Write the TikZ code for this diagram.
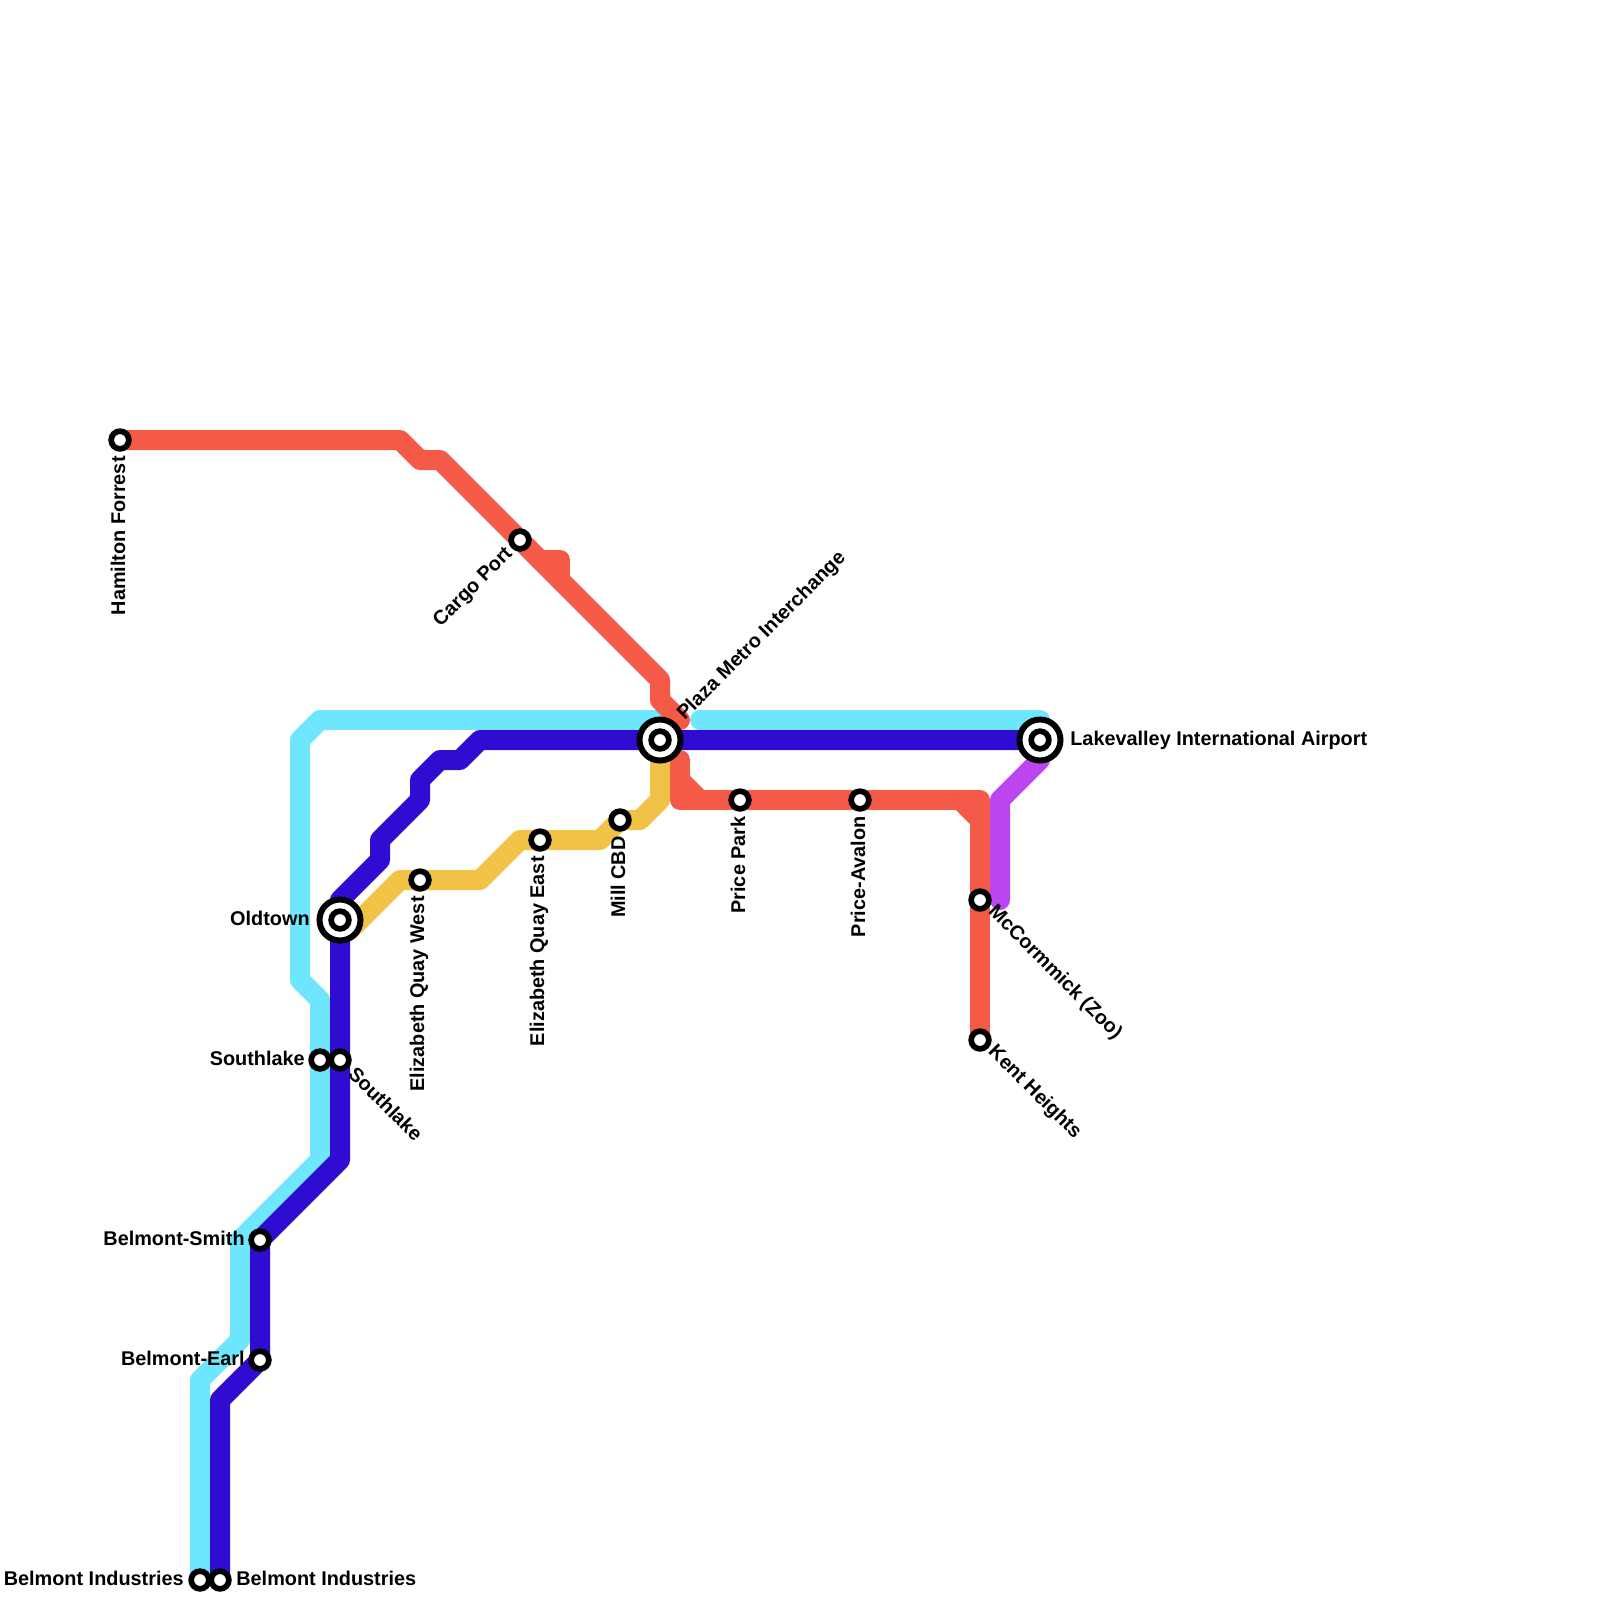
\documentclass[tikz,border=0pt]{standalone}
\usepackage{fontspec}
\setmainfont{Liberation Sans}
\usetikzlibrary{backgrounds}
\definecolor{redln}{HTML}{F45A47}
\definecolor{cyanln}{HTML}{6DE6FE}
\definecolor{blueln}{HTML}{300CD3}
\definecolor{yellowln}{HTML}{F2C246}
\definecolor{purpleln}{HTML}{BB45F0}
\tikzset{
  metro/.style={line width=4mm, line join=round, line cap=round},
  stn/.style={circle, draw=black, fill=white, line width=1.14mm, minimum size=3.54mm, inner sep=0pt},
  hub/.style={circle, draw=black, fill=white, line width=1.2mm, minimum size=8.2mm, inner sep=0pt},
  lbl/.style={font=\bfseries\fontsize{11.3}{13}\selectfont, inner sep=0pt, text=black},
}

\begin{document}
\begin{tikzpicture}[x=4mm, y=-4mm]
\useasboundingbox (0,0) rectangle (80,80);
% stations
\foreach \n/\x/\y in {hamilton/6/22,cargo/26/27,mill/31/41,eastq/27/42,westq/21/44,south1/16/53,south2/17/53,smith/13/62,earl/13/68,ind1/10/79,ind2/11/79,park/37/40,avalon/43/40,zoo/49/45,kent/49/52}
  \node[stn] (\n) at (\x,\y) {};
\foreach \n/\x/\y in {plaza/33/37,airport/52/37,oldtown/17/46} {
  \node[hub] (\n) at (\x,\y) {};
  \node[stn] (\n-in) at (\x,\y) {};
}
% station names
\node[lbl, rotate=90, anchor=east] (hamilton-l) at (5.9,22.8) {Hamilton Forrest};
\node[lbl, rotate=45, anchor=east] (cargo-l) at (25.5,27.55) {Cargo Port};
\node[lbl, rotate=45, anchor=west] (plaza-l) at (34.05,35.85) {Plaza Metro Interchange};
\node[lbl, anchor=west] (airport-l) at (53.5,37) {Lakevalley International Airport};
\node[lbl, anchor=east] (oldtown-l) at (15.5,45.9) {Oldtown};
\node[lbl, anchor=east] (south1-l) at (15.25,52.9) {Southlake};
\node[lbl, rotate=-45, anchor=west] (south2-l) at (17.6,53.5) {Southlake};
\node[lbl, rotate=90, anchor=east] (westq-l) at (20.95,44.8) {Elizabeth Quay West};
\node[lbl, rotate=90, anchor=east] (eastq-l) at (26.95,42.8) {Elizabeth Quay East};
\node[lbl, rotate=90, anchor=east] (mill-l) at (30.9,41.8) {Mill CBD};
\node[lbl, rotate=90, anchor=east] (park-l) at (36.9,40.8) {Price Park};
\node[lbl, rotate=90, anchor=east] (avalon-l) at (42.9,40.8) {Price-Avalon};
\node[lbl, rotate=-45, anchor=west] (zoo-l) at (49.55,45.45) {McCormmick (Zoo)};
\node[lbl, rotate=-45, anchor=west] (kent-l) at (49.55,52.45) {Kent Heights};
\node[lbl, anchor=east] (smith-l) at (12.25,61.9) {Belmont-Smith};
\node[lbl, anchor=east] (earl-l) at (12.25,67.9) {Belmont-Earl};
\node[lbl, anchor=east] (ind1-l) at (9.2,78.9) {Belmont Industries};
\node[lbl, anchor=west] (ind2-l) at (11.8,78.9) {Belmont Industries};
% lines, under the stations
\begin{scope}[on background layer]
\draw[metro, cyanln] (ind1.center) -- (10,69) -- (12,67) -- (12,62) -- (16,58) -- (south1.center) -- (16,50) -- (15,49) -- (15,37) -- (16,36) -- (33,36);
\draw[metro, cyanln] (35,36) -- (52,36);
\draw[metro, redln] (hamilton.center) -- (20,22) -- (21,23) -- (22,23) -- (cargo.center) -- (33,34) -- (33,35) -- (34,36);
\draw[metro, redln] (27,28) -- (28,28) -- (28,29);
\draw[metro, redln] (34,38) -- (34,40) -- (park.center) -- (avalon.center) -- (49,40) -- (zoo.center) -- (kent.center);
\draw[metro, redln] (34,39) -- (35,40);
\draw[metro, redln] (48,40) -- (49,41);
\draw[metro, blueln] (ind2.center) -- (11,70) -- (earl.center) -- (smith.center) -- (17,58) -- (south2.center) -- (oldtown.center) -- (17,45) -- (19,43) -- (19,42) -- (21,40) -- (21,39) -- (22,38) -- (23,38) -- (24,37) -- (plaza.center) -- (airport.center);
\draw[metro, yellowln] (plaza.center) -- (33,40) -- (32,41) -- (mill.center) -- (30,42) -- (eastq.center) -- (26,42) -- (24,44) -- (westq.center) -- (20,44) -- (17.5,46.5);
\draw[metro, purpleln] (airport.center) -- (52,38) -- (50,40) -- (50,45);
\end{scope}
\end{tikzpicture}
\end{document}
